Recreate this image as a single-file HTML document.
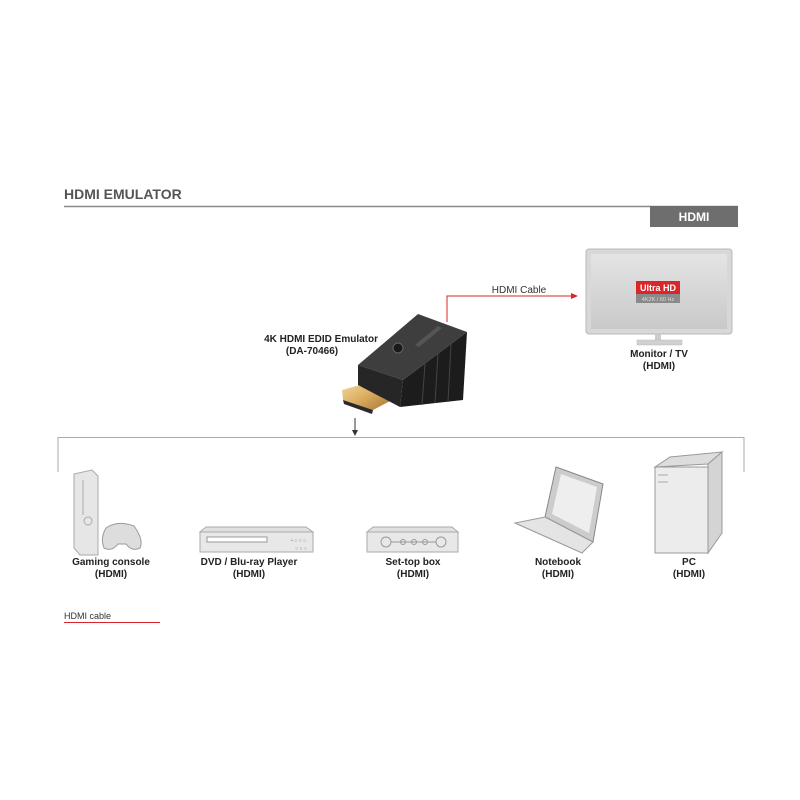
<!DOCTYPE html>
<html><head><meta charset="utf-8"><style>
html,body{margin:0;padding:0;background:#fff}
svg{display:block}
text{font-family:"Liberation Sans",sans-serif}
</style></head><body>
<svg width="800" height="800" viewBox="0 0 800 800" xmlns="http://www.w3.org/2000/svg">
<defs>
<linearGradient id="gold" x1="0" y1="0" x2="1" y2="1"><stop offset="0" stop-color="#f6e0a8"/><stop offset="0.5" stop-color="#dcae63"/><stop offset="1" stop-color="#a5722f"/></linearGradient>
<linearGradient id="scr" x1="0" y1="0" x2="0" y2="1"><stop offset="0" stop-color="#e4e4e4"/><stop offset="1" stop-color="#c9c9c9"/></linearGradient>
</defs>
<text x="64" y="199" font-size="14" font-weight="bold" fill="#555">HDMI EMULATOR</text>
<line x1="64" y1="206.5" x2="738" y2="206.5" stroke="#888" stroke-width="1.5"/>
<rect x="650" y="206" width="88" height="21" fill="#6e6e6e"/>
<text x="694" y="221" font-size="12" font-weight="bold" fill="#fff" text-anchor="middle">HDMI</text>

<!-- monitor -->
<rect x="586" y="249" width="146" height="85" rx="3" fill="#d8d8d8" stroke="#b8b8b8"/>
<rect x="591" y="254" width="136" height="75" fill="url(#scr)"/>
<rect x="655" y="334" width="6" height="6" fill="#ccc"/>
<rect x="637" y="340" width="45" height="5" fill="#d0d0d0" stroke="#bbb" stroke-width="0.5"/>
<rect x="636" y="281" width="44" height="13" fill="#d9262b"/>
<text x="658" y="291" font-size="9" font-weight="bold" fill="#fff" text-anchor="middle">Ultra HD</text>
<rect x="636" y="294" width="44" height="9" fill="#8a8a8a"/>
<text x="658" y="301" font-size="5.5" fill="#ddd" text-anchor="middle">4K2K / 60 Hz</text>
<text x="659" y="357" font-size="10" font-weight="bold" fill="#222" text-anchor="middle">Monitor / TV</text>
<text x="659" y="369" font-size="10" font-weight="bold" fill="#222" text-anchor="middle">(HDMI)</text>

<!-- cable -->
<polyline points="447,322 447,296 572,296" fill="none" stroke="#d9262b" stroke-width="1"/>
<polygon points="578,296 571,293 571,299" fill="#d9262b"/>
<text x="519" y="293" font-size="10" fill="#333" text-anchor="middle">HDMI Cable</text>

<!-- emulator -->
<g stroke-linejoin="round">
<polygon points="342,390 385,378 392,400 373,410 343,400" fill="url(#gold)"/>
<polygon points="343,400 373,410 372,414 344,404" fill="#2a2a2a"/>
<polygon points="358,365 418,314 467,332 403,380" fill="#3e3e3e"/>
<polygon points="358,365 403,380 400,407 358,385" fill="#262626"/>
<polygon points="403,380 467,332 463,400 400,407" fill="#1c1c1c"/>
<line x1="425" y1="364" x2="422" y2="405" stroke="#444"/>
<line x1="438" y1="354" x2="435" y2="403" stroke="#444"/>
<line x1="451" y1="344" x2="448" y2="402" stroke="#444"/>
<circle cx="398" cy="348" r="5" fill="#1a1a1a" stroke="#666"/>
<polygon points="415,345 438,326 442,328 419,347" fill="#555"/>
</g>
<text x="378" y="342" font-size="10" font-weight="bold" fill="#222" text-anchor="end">4K HDMI EDID Emulator</text>
<text x="312" y="354" font-size="10" font-weight="bold" fill="#222" text-anchor="middle">(DA-70466)</text>
<line x1="355" y1="418" x2="355" y2="432" stroke="#333" stroke-width="1"/>
<polygon points="355,436 352,430 358,430" fill="#333"/>

<!-- bracket -->
<polyline points="58,472 58,437.5 744,437.5 744,472" fill="none" stroke="#aaa" stroke-width="1"/>

<!-- console -->
<polygon points="74,474 92,470 98,476 98,555 80,555 74,548" fill="#e6e6e6" stroke="#aaa"/>
<line x1="83" y1="480" x2="83" y2="515" stroke="#aaa"/>
<circle cx="88" cy="521" r="4" fill="none" stroke="#aaa"/>
<path d="M106,528 Q118,520 134,526 Q144,540 140,548 Q132,552 126,544 L118,544 Q112,552 104,548 Q100,538 106,528Z" fill="#ddd" stroke="#999"/>
<!-- dvd -->
<polygon points="200,532 206,527 306,527 313,532" fill="#e0e0e0" stroke="#aaa"/>
<rect x="200" y="532" width="113" height="20" fill="#e8e8e8" stroke="#aaa"/>
<rect x="207" y="537" width="60" height="5" fill="#fff" stroke="#999"/>
<text x="291" y="542" font-size="5" fill="#888">• ○ ○ ○</text>
<text x="295" y="550" font-size="5" fill="#888">○ ○ ○</text>
<!-- stb -->
<polygon points="367,532 373,527 452,527 458,532" fill="#e0e0e0" stroke="#aaa"/>
<rect x="367" y="532" width="91" height="20" fill="#e8e8e8" stroke="#aaa"/>
<circle cx="386" cy="542" r="5" fill="none" stroke="#999"/>
<circle cx="441" cy="542" r="5" fill="none" stroke="#999"/>
<circle cx="403" cy="542" r="2.5" fill="none" stroke="#999"/>
<circle cx="414" cy="542" r="2.5" fill="none" stroke="#999"/>
<circle cx="425" cy="542" r="2.5" fill="none" stroke="#999"/>
<line x1="391" y1="542" x2="436" y2="542" stroke="#999"/>
<!-- notebook -->
<polygon points="556,467 603,484 593,542 545,517" fill="#ccc" stroke="#888"/>
<polygon points="561,474 597,487 589,533 552,514" fill="#eee"/>
<polygon points="545,517 593,542 582,553 515,523" fill="#e4e4e4" stroke="#999"/>
<!-- pc -->
<polygon points="655,467 670,457 722,452 708,464" fill="#ddd" stroke="#999"/>
<polygon points="708,464 722,452 722,533 708,553" fill="#d4d4d4" stroke="#999"/>
<rect x="655" y="467" width="53" height="86" fill="#ececec" stroke="#999"/>
<line x1="658" y1="475" x2="668" y2="475" stroke="#aaa"/>
<line x1="658" y1="482" x2="668" y2="482" stroke="#aaa"/>

<g font-size="10" font-weight="bold" fill="#222" text-anchor="middle">
<text x="111" y="565">Gaming console</text><text x="111" y="577">(HDMI)</text>
<text x="249" y="565">DVD / Blu-ray Player</text><text x="249" y="577">(HDMI)</text>
<text x="413" y="565">Set-top box</text><text x="413" y="577">(HDMI)</text>
<text x="558" y="565">Notebook</text><text x="558" y="577">(HDMI)</text>
<text x="689" y="565">PC</text><text x="689" y="577">(HDMI)</text>
</g>
<text x="64" y="619" font-size="9" fill="#333">HDMI cable</text>
<line x1="64" y1="622.5" x2="160" y2="622.5" stroke="#d9262b" stroke-width="1"/>
</svg>
</body></html>
